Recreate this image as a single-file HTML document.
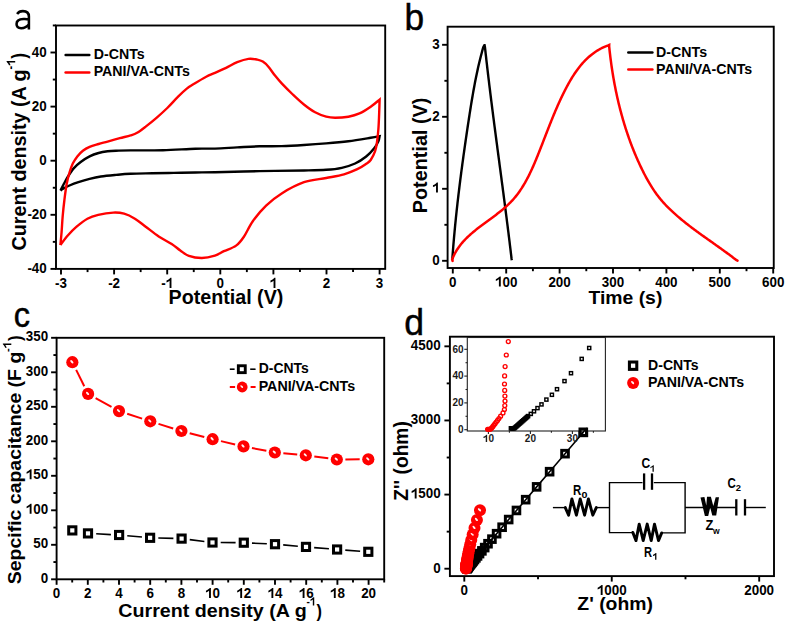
<!DOCTYPE html><html><head><meta charset="utf-8"><style>html,body{margin:0;padding:0;background:#fff;overflow:hidden}svg{display:block}text{font-family:"Liberation Sans",sans-serif}</style></head><body>
<svg width="787" height="624" viewBox="0 0 787 624">
<rect width="787" height="624" fill="#fff"/>
<path d="M60.5,190.6 C61.07,189.47 62.6,186.23 63.9,183.8 C65.2,181.37 66.63,178.62 68.3,176 C69.97,173.38 71.83,170.43 73.9,168.1 C75.97,165.77 78.08,163.95 80.7,162 C83.32,160.05 86.62,157.9 89.6,156.4 C92.58,154.9 95.6,153.85 98.6,153 C101.6,152.15 104.7,151.68 107.6,151.3 C110.5,150.92 112.17,150.85 116,150.7 C119.83,150.55 122.77,150.48 130.6,150.4 C138.43,150.32 152.2,150.48 163,150.2 C173.8,149.92 186.73,148.97 195.4,148.7 C204.07,148.43 208.03,148.82 215,148.6 C221.97,148.38 229.78,147.78 237.2,147.4 C244.62,147.02 252.08,146.52 259.5,146.3 C266.92,146.08 274.3,146.32 281.7,146.1 C289.1,145.88 296.48,145.45 303.9,145 C311.32,144.55 318.78,144.03 326.2,143.4 C333.62,142.77 340.98,142.13 348.4,141.2 C355.82,140.27 365.5,138.63 370.7,137.8 C375.9,136.97 378.12,136.47 379.6,136.2 L379.6,136.2 C379.4,137.03 379.33,139.15 378.4,141.2 C377.47,143.25 376.03,145.95 374,148.5 C371.97,151.05 369.35,154 366.2,156.5 C363.05,159 359.17,161.62 355.1,163.5 C351.03,165.38 346.62,166.75 341.8,167.8 C336.98,168.85 332.5,169.35 326.2,169.8 C319.9,170.25 315.12,170.28 304,170.5 C292.88,170.72 274.33,170.82 259.5,171.1 C244.67,171.38 225.68,171.97 215,172.2 C204.32,172.43 202.27,172.38 195.4,172.5 C188.53,172.62 181,172.77 173.8,172.9 C166.6,173.03 159.4,173.15 152.2,173.3 C145,173.45 136.63,173.53 130.6,173.8 C124.57,174.07 120.95,174.45 116,174.9 C111.05,175.35 105.3,175.85 100.9,176.5 C96.5,177.15 93.35,177.87 89.6,178.8 C85.85,179.73 81.75,180.98 78.4,182.1 C75.05,183.22 72.12,184.37 69.5,185.5 C66.88,186.63 64.2,188.05 62.7,188.9 C61.2,189.75 60.87,190.32 60.5,190.6" fill="none" stroke="#000" stroke-width="2.4" stroke-linejoin="miter"/>
<path d="M60.4,245 C60.6,242.83 61.22,236.83 61.6,232 C61.98,227.17 62.23,221.33 62.7,216 C63.17,210.67 63.73,205.37 64.4,200 C65.07,194.63 65.85,188.37 66.7,183.8 C67.55,179.23 68.48,175.97 69.5,172.6 C70.52,169.23 71.5,166.3 72.8,163.6 C74.1,160.9 75.62,158.55 77.3,156.4 C78.98,154.25 80.85,152.3 82.9,150.7 C84.95,149.1 86.98,147.92 89.6,146.8 C92.22,145.68 95.6,144.87 98.6,144 C101.6,143.13 104.07,142.57 107.6,141.6 C111.13,140.63 115.97,139.23 119.8,138.2 C123.63,137.17 127.72,136.3 130.6,135.4 C133.48,134.5 134.58,134.27 137.1,132.8 C139.62,131.33 142.47,129.1 145.7,126.6 C148.93,124.1 152.9,120.9 156.5,117.8 C160.1,114.7 163.7,111.53 167.3,108 C170.9,104.47 174.85,99.83 178.1,96.6 C181.35,93.37 184.27,90.65 186.8,88.6 C189.33,86.55 190.07,86.28 193.3,84.3 C196.53,82.32 202.58,78.62 206.2,76.7 C209.82,74.78 211.68,74.28 215,72.8 C218.32,71.32 222.4,69.57 226.1,67.8 C229.8,66.03 233.48,63.68 237.2,62.2 C240.92,60.72 245.05,59.33 248.4,58.9 C251.75,58.47 254.9,59.15 257.3,59.6 C259.7,60.05 260.95,60.42 262.8,61.6 C264.65,62.78 266.37,64.37 268.4,66.7 C270.43,69.03 272.78,72.82 275,75.6 C277.22,78.38 278.73,80.25 281.7,83.4 C284.67,86.55 289.1,90.98 292.8,94.5 C296.5,98.02 300.18,101.53 303.9,104.5 C307.62,107.47 311.38,110.27 315.1,112.3 C318.82,114.33 322.87,115.78 326.2,116.7 C329.53,117.62 331.4,117.8 335.1,117.8 C338.8,117.8 344.33,117.43 348.4,116.7 C352.47,115.97 355.78,115.07 359.5,113.4 C363.22,111.73 367.35,109 370.7,106.7 C374.05,104.4 378.12,100.78 379.6,99.6 L379.6,99.6 C379.52,102.17 379.3,110.1 379.1,115 C378.9,119.9 378.75,124.5 378.4,129 C378.05,133.5 377.55,138.3 377,142 C376.45,145.7 376.15,148.2 375.1,151.2 C374.05,154.2 372.18,157.9 370.7,160 C369.22,162.1 368.43,162.27 366.2,163.8 C363.97,165.33 361,167.45 357.3,169.2 C353.6,170.95 349.18,172.83 344,174.3 C338.82,175.77 332.87,176.68 326.2,178 C319.53,179.32 311.42,179.63 304,182.2 C296.58,184.77 288.02,189.5 281.7,193.4 C275.38,197.3 270.92,200.97 266.1,205.6 C261.28,210.23 256.5,216.02 252.8,221.2 C249.1,226.38 246.68,232.63 243.9,236.7 C241.12,240.77 239.43,243.18 236.1,245.6 C232.77,248.02 227.43,249.53 223.9,251.2 C220.37,252.87 218.57,254.47 214.9,255.6 C211.23,256.73 206.23,257.95 201.9,258 C197.57,258.05 192.5,257.15 188.9,255.9 C185.3,254.65 183.17,252.48 180.3,250.5 C177.43,248.52 175.3,246.35 171.7,244 C168.1,241.65 163.03,239.28 158.7,236.4 C154.37,233.52 149.67,229.65 145.7,226.7 C141.73,223.75 138.5,220.87 134.9,218.7 C131.3,216.53 127.7,214.72 124.1,213.7 C120.5,212.68 117.62,212.42 113.3,212.6 C108.98,212.78 102.52,213.78 98.2,214.8 C93.88,215.82 91,216.72 87.4,218.7 C83.8,220.68 79.83,223.93 76.6,226.7 C73.37,229.47 70.7,232.25 68,235.3 C65.3,238.35 61.67,243.38 60.4,245" fill="none" stroke="#ff0000" stroke-width="2.4" stroke-linejoin="miter"/>
<rect x="56" y="25.5" width="329.2" height="243.4" fill="none" stroke="#000" stroke-width="1.9"/>
<line x1="50.5" y1="268.9" x2="56" y2="268.9" stroke="#000" stroke-width="1.9"/>
<line x1="50.5" y1="214.8" x2="56" y2="214.8" stroke="#000" stroke-width="1.9"/>
<line x1="50.5" y1="160.7" x2="56" y2="160.7" stroke="#000" stroke-width="1.9"/>
<line x1="50.5" y1="106.6" x2="56" y2="106.6" stroke="#000" stroke-width="1.9"/>
<line x1="50.5" y1="52.5" x2="56" y2="52.5" stroke="#000" stroke-width="1.9"/>
<line x1="52.8" y1="241.85" x2="56" y2="241.85" stroke="#000" stroke-width="1.9"/>
<line x1="52.8" y1="187.75" x2="56" y2="187.75" stroke="#000" stroke-width="1.9"/>
<line x1="52.8" y1="133.65" x2="56" y2="133.65" stroke="#000" stroke-width="1.9"/>
<line x1="52.8" y1="79.55" x2="56" y2="79.55" stroke="#000" stroke-width="1.9"/>
<line x1="52.8" y1="25.45" x2="56" y2="25.45" stroke="#000" stroke-width="1.9"/>
<line x1="61" y1="268.9" x2="61" y2="274.4" stroke="#000" stroke-width="1.9"/>
<line x1="114.1" y1="268.9" x2="114.1" y2="274.4" stroke="#000" stroke-width="1.9"/>
<line x1="167.2" y1="268.9" x2="167.2" y2="274.4" stroke="#000" stroke-width="1.9"/>
<line x1="220.3" y1="268.9" x2="220.3" y2="274.4" stroke="#000" stroke-width="1.9"/>
<line x1="273.4" y1="268.9" x2="273.4" y2="274.4" stroke="#000" stroke-width="1.9"/>
<line x1="326.5" y1="268.9" x2="326.5" y2="274.4" stroke="#000" stroke-width="1.9"/>
<line x1="379.6" y1="268.9" x2="379.6" y2="274.4" stroke="#000" stroke-width="1.9"/>
<line x1="87.55" y1="268.9" x2="87.55" y2="272.1" stroke="#000" stroke-width="1.9"/>
<line x1="140.65" y1="268.9" x2="140.65" y2="272.1" stroke="#000" stroke-width="1.9"/>
<line x1="193.75" y1="268.9" x2="193.75" y2="272.1" stroke="#000" stroke-width="1.9"/>
<line x1="246.85" y1="268.9" x2="246.85" y2="272.1" stroke="#000" stroke-width="1.9"/>
<line x1="299.95" y1="268.9" x2="299.95" y2="272.1" stroke="#000" stroke-width="1.9"/>
<line x1="353.05" y1="268.9" x2="353.05" y2="272.1" stroke="#000" stroke-width="1.9"/>
<text transform="translate(27.38,273) scale(1,1.05)" font-size="13.4" style="font-weight:bold" fill="#000">-40</text>
<text transform="translate(27.38,218.9) scale(1,1.05)" font-size="13.4" style="font-weight:bold" fill="#000">-20</text>
<text transform="translate(39.3,164.8) scale(1,1.05)" font-size="13.4" style="font-weight:bold" fill="#000">0</text>
<text transform="translate(31.84,110.7) scale(1,1.05)" font-size="13.4" style="font-weight:bold" fill="#000">20</text>
<text transform="translate(31.84,56.6) scale(1,1.05)" font-size="13.4" style="font-weight:bold" fill="#000">40</text>
<text transform="translate(55.04,287.9) scale(1,1.05)" font-size="13.4" style="font-weight:bold" fill="#000">-3</text>
<text transform="translate(108.14,287.9) scale(1,1.05)" font-size="13.4" style="font-weight:bold" fill="#000">-2</text>
<g transform="translate(161.24,287.9) scale(1,1.05)"><text x="0" y="0" font-size="13.4" style="font-weight:bold" fill="#000">-</text><path d="M0.43,0 L0.29,0 L0.29,-0.512 C0.235,-0.462 0.15,-0.418 0.06,-0.39 L0.06,-0.52 C0.15,-0.55 0.225,-0.6 0.285,-0.655 C0.32,-0.69 0.345,-0.708 0.36,-0.716 L0.43,-0.716 Z" fill="#000" transform="translate(4.46,0) scale(13.4)"/></g>
<text transform="translate(216.57,287.9) scale(1,1.05)" font-size="13.4" style="font-weight:bold" fill="#000">0</text>
<g transform="translate(269.67,287.9) scale(1,1.05)"><path d="M0.43,0 L0.29,0 L0.29,-0.512 C0.235,-0.462 0.15,-0.418 0.06,-0.39 L0.06,-0.52 C0.15,-0.55 0.225,-0.6 0.285,-0.655 C0.32,-0.69 0.345,-0.708 0.36,-0.716 L0.43,-0.716 Z" fill="#000" transform="translate(0,0) scale(13.4)"/></g>
<text transform="translate(322.77,287.9) scale(1,1.05)" font-size="13.4" style="font-weight:bold" fill="#000">2</text>
<text transform="translate(375.87,287.9) scale(1,1.05)" font-size="13.4" style="font-weight:bold" fill="#000">3</text>
<line x1="65.6" y1="55.1" x2="89.3" y2="55.1" stroke="#000" stroke-width="2.5" stroke-linecap="round"/>
<line x1="65.6" y1="72.6" x2="89.3" y2="72.6" stroke="#ff0000" stroke-width="2.5" stroke-linecap="round"/>
<text x="93.68" y="59.1" font-size="14.2" style="font-weight:bold" fill="#000">D-CNTs</text>
<text x="93.68" y="76.3" font-size="14.2" style="font-weight:bold" fill="#000">PANI/VA-CNTs</text>
<text transform="translate(168.52,304) scale(1.02,1)" font-size="19.3" style="font-weight:bold" fill="#000">Potential (V)</text>
<text transform="translate(26,250.39) rotate(-90) scale(0.99,1)" font-size="19.9" style="font-weight:bold" fill="#000">Curent density (A g</text>
<g transform="translate(15.2,69.43) rotate(-90) scale(0.91,1)"><text x="0" y="0" font-size="12" style="font-weight:bold" fill="#000">-</text><path d="M0.43,0 L0.29,0 L0.29,-0.512 C0.235,-0.462 0.15,-0.418 0.06,-0.39 L0.06,-0.52 C0.15,-0.55 0.225,-0.6 0.285,-0.655 C0.32,-0.69 0.345,-0.708 0.36,-0.716 L0.43,-0.716 Z" fill="#000" transform="translate(4,0) scale(12)"/></g>
<text transform="translate(26,58.79) rotate(-90) scale(0.88,1)" font-size="19.9" style="font-weight:bold" fill="#000">)</text>
<path d="M452.7,259.5 L452.42,257.63 L452.55,255.81 L452.68,254 L452.82,252.18 L452.96,250.37 L453.1,248.56 L453.25,246.74 L453.4,244.93 L453.55,243.12 L453.7,241.3 L453.86,239.49 L454.02,237.68 L454.18,235.86 L454.34,234.05 L454.51,232.24 L454.68,230.42 L454.85,228.61 L455.02,226.8 L455.2,224.99 L455.38,223.17 L455.56,221.36 L455.74,219.55 L455.93,217.73 L456.12,215.92 L456.31,214.11 L456.5,212.3 L456.69,210.49 L456.89,208.67 L457.09,206.86 L457.29,205.05 L457.49,203.24 L457.7,201.43 L457.91,199.62 L458.12,197.81 L458.33,195.99 L458.54,194.18 L458.76,192.37 L458.98,190.56 L459.2,188.75 L459.42,186.94 L459.64,185.13 L459.86,183.32 L460.09,181.51 L460.32,179.7 L460.55,177.89 L460.78,176.08 L461.02,174.27 L461.25,172.46 L461.49,170.65 L461.73,168.85 L461.97,167.04 L462.21,165.23 L462.45,163.42 L462.7,161.61 L462.95,159.8 L463.19,158 L463.44,156.19 L463.69,154.38 L463.95,152.57 L464.2,150.77 L464.46,148.96 L464.71,147.15 L464.97,145.35 L465.23,143.54 L465.49,141.73 L465.75,139.93 L466.01,138.12 L466.28,136.32 L466.54,134.51 L466.81,132.71 L467.07,130.9 L467.34,129.1 L467.61,127.29 L467.88,125.49 L468.15,123.69 L468.43,121.88 L468.7,120.08 L468.97,118.28 L469.25,116.47 L469.53,114.67 L469.8,112.87 L470.09,111.07 L470.37,109.27 L470.65,107.47 L470.94,105.67 L471.23,103.87 L471.53,102.07 L471.82,100.27 L472.13,98.47 L472.43,96.68 L472.74,94.88 L473.05,93.09 L473.37,91.3 L473.69,89.5 L474.02,87.71 L474.35,85.92 L474.69,84.13 L475.03,82.35 L475.38,80.56 L475.73,78.77 L476.09,76.99 L476.46,75.21 L476.83,73.43 L477.21,71.65 L477.6,69.87 L477.99,68.09 L478.39,66.32 L478.8,64.55 L479.22,62.77 L479.65,61 L480.08,59.24 L480.52,57.47 L480.97,55.71 L481.43,53.95 L481.9,52.19 L482.38,50.43 L482.87,48.67 L483.37,46.92 L484.4,45.3 L484.6,45.3 L484.96,47.09 L485.15,48.9 L485.35,50.71 L485.55,52.52 L485.75,54.33 L485.96,56.14 L486.16,57.95 L486.36,59.76 L486.57,61.57 L486.78,63.38 L486.99,65.19 L487.19,67 L487.41,68.81 L487.62,70.62 L487.83,72.43 L488.04,74.24 L488.26,76.05 L488.47,77.85 L488.69,79.66 L488.91,81.47 L489.13,83.28 L489.34,85.09 L489.56,86.89 L489.79,88.7 L490.01,90.51 L490.23,92.32 L490.45,94.12 L490.68,95.93 L490.9,97.74 L491.13,99.54 L491.36,101.35 L491.58,103.16 L491.81,104.96 L492.04,106.77 L492.27,108.58 L492.5,110.38 L492.73,112.19 L492.96,114 L493.19,115.8 L493.42,117.61 L493.66,119.41 L493.89,121.22 L494.12,123.03 L494.36,124.83 L494.59,126.64 L494.83,128.44 L495.06,130.25 L495.3,132.05 L495.54,133.86 L495.77,135.66 L496.01,137.47 L496.25,139.28 L496.48,141.08 L496.72,142.89 L496.96,144.69 L497.2,146.5 L497.43,148.3 L497.67,150.11 L497.91,151.91 L498.15,153.72 L498.39,155.52 L498.63,157.33 L498.87,159.13 L499.11,160.94 L499.35,162.74 L499.58,164.55 L499.82,166.35 L500.06,168.16 L500.3,169.96 L500.54,171.77 L500.78,173.57 L501.02,175.38 L501.26,177.19 L501.5,178.99 L501.73,180.8 L501.97,182.6 L502.21,184.41 L502.45,186.21 L502.69,188.02 L502.92,189.82 L503.16,191.63 L503.4,193.43 L503.63,195.24 L503.87,197.05 L504.1,198.85 L504.34,200.66 L504.57,202.46 L504.81,204.27 L505.04,206.08 L505.28,207.88 L505.51,209.69 L505.74,211.49 L505.97,213.3 L506.2,215.11 L506.43,216.91 L506.66,218.72 L506.89,220.53 L507.12,222.33 L507.35,224.14 L507.58,225.95 L507.8,227.76 L508.03,229.56 L508.26,231.37 L508.48,233.18 L508.7,234.99 L508.93,236.79 L509.15,238.6 L509.37,240.41 L509.59,242.22 L509.81,244.03 L510.03,245.84 L510.25,247.64 L510.46,249.45 L510.68,251.26 L510.89,253.07 L511.11,254.88 L511.32,256.69 L511.53,258.5 L511.8,260.3" fill="none" stroke="#000" stroke-width="2.4" stroke-linejoin="miter"/>
<path d="M452.6,260.9 L452.18,259.47 L452.64,258.28 L453.13,257.11 L453.64,255.96 L454.17,254.83 L454.73,253.72 L455.31,252.63 L455.92,251.56 L456.55,250.5 L457.2,249.46 L457.88,248.44 L458.57,247.43 L459.29,246.44 L460.02,245.46 L460.77,244.5 L461.55,243.55 L462.33,242.61 L463.14,241.69 L463.96,240.78 L464.8,239.89 L465.66,239 L466.52,238.13 L467.41,237.26 L468.3,236.41 L469.21,235.56 L470.13,234.73 L471.06,233.9 L472.01,233.09 L472.96,232.28 L473.92,231.47 L474.89,230.68 L475.87,229.89 L476.86,229.1 L477.85,228.32 L478.85,227.55 L479.86,226.78 L480.87,226.01 L481.89,225.25 L482.91,224.49 L483.93,223.73 L484.96,222.97 L485.98,222.22 L487.01,221.46 L488.04,220.71 L489.07,219.96 L490.1,219.2 L491.13,218.45 L492.16,217.69 L493.18,216.93 L494.2,216.17 L495.22,215.41 L496.23,214.64 L497.24,213.86 L498.24,213.09 L499.24,212.31 L500.23,211.52 L501.21,210.72 L502.18,209.93 L503.15,209.12 L504.1,208.3 L505.05,207.48 L505.99,206.65 L506.91,205.81 L507.82,204.96 L508.72,204.1 L509.61,203.23 L510.48,202.35 L511.34,201.46 L512.18,200.56 L513.01,199.64 L513.83,198.72 L514.62,197.78 L515.41,196.83 L516.18,195.87 L516.94,194.9 L517.69,193.92 L518.42,192.93 L519.14,191.93 L519.84,190.92 L520.54,189.9 L521.22,188.87 L521.9,187.84 L522.56,186.79 L523.21,185.74 L523.85,184.68 L524.48,183.61 L525.1,182.54 L525.71,181.45 L526.31,180.37 L526.9,179.27 L527.48,178.17 L528.06,177.06 L528.63,175.95 L529.18,174.83 L529.74,173.7 L530.28,172.58 L530.82,171.44 L531.35,170.3 L531.87,169.16 L532.39,168.02 L532.91,166.87 L533.42,165.71 L533.92,164.56 L534.42,163.4 L534.91,162.24 L535.4,161.08 L535.89,159.91 L536.37,158.74 L536.85,157.58 L537.32,156.41 L537.8,155.24 L538.27,154.06 L538.74,152.89 L539.2,151.72 L539.67,150.55 L540.13,149.38 L540.59,148.2 L541.05,147.03 L541.51,145.86 L541.97,144.68 L542.43,143.51 L542.89,142.34 L543.34,141.16 L543.8,139.99 L544.25,138.82 L544.71,137.64 L545.16,136.47 L545.62,135.3 L546.07,134.13 L546.53,132.96 L546.98,131.79 L547.44,130.62 L547.9,129.45 L548.35,128.28 L548.81,127.11 L549.27,125.94 L549.73,124.77 L550.2,123.61 L550.66,122.44 L551.13,121.28 L551.6,120.11 L552.07,118.95 L552.54,117.79 L553.02,116.63 L553.49,115.47 L553.97,114.31 L554.46,113.15 L554.94,112 L555.43,110.84 L555.93,109.69 L556.42,108.54 L556.92,107.39 L557.42,106.24 L557.93,105.09 L558.44,103.95 L558.96,102.81 L559.48,101.67 L560,100.53 L560.53,99.39 L561.06,98.25 L561.6,97.12 L562.14,95.99 L562.69,94.86 L563.24,93.73 L563.8,92.6 L564.36,91.48 L564.93,90.36 L565.51,89.24 L566.09,88.13 L566.68,87.01 L567.27,85.9 L567.87,84.8 L568.48,83.69 L569.1,82.59 L569.72,81.5 L570.35,80.41 L570.99,79.33 L571.64,78.25 L572.3,77.19 L572.96,76.12 L573.64,75.07 L574.33,74.02 L575.02,72.98 L575.73,71.95 L576.45,70.93 L577.18,69.92 L577.92,68.92 L578.67,67.93 L579.43,66.96 L580.21,65.99 L581,65.03 L581.8,64.09 L582.61,63.16 L583.44,62.25 L584.28,61.34 L585.14,60.45 L586.01,59.58 L586.89,58.72 L587.8,57.88 L588.71,57.05 L589.64,56.24 L590.59,55.44 L591.55,54.67 L592.53,53.91 L593.53,53.16 L594.54,52.44 L595.58,51.74 L596.63,51.05 L597.69,50.39 L598.78,49.74 L599.88,49.12 L601.01,48.52 L602.15,47.94 L603.31,47.38 L604.49,46.84 L605.7,46.33 L606.92,45.84 L608.16,45.37 L609.2,44.9 L609.2,44.9 L609.17,46.46 L609.32,47.91 L609.47,49.36 L609.63,50.81 L609.79,52.26 L609.96,53.71 L610.13,55.16 L610.31,56.61 L610.49,58.06 L610.67,59.51 L610.86,60.96 L611.06,62.42 L611.26,63.87 L611.46,65.32 L611.67,66.77 L611.88,68.22 L612.1,69.68 L612.33,71.13 L612.56,72.58 L612.79,74.03 L613.03,75.48 L613.27,76.93 L613.52,78.38 L613.78,79.83 L614.04,81.28 L614.3,82.73 L614.57,84.18 L614.85,85.62 L615.13,87.07 L615.42,88.52 L615.71,89.96 L616,91.4 L616.31,92.85 L616.61,94.29 L616.93,95.73 L617.24,97.17 L617.57,98.61 L617.9,100.05 L618.23,101.49 L618.57,102.92 L618.92,104.36 L619.27,105.79 L619.63,107.22 L619.99,108.65 L620.36,110.08 L620.74,111.51 L621.12,112.94 L621.5,114.36 L621.9,115.78 L622.3,117.21 L622.7,118.63 L623.11,120.04 L623.53,121.46 L623.95,122.87 L624.38,124.29 L624.81,125.7 L625.25,127.1 L625.7,128.51 L626.15,129.91 L626.61,131.32 L627.07,132.71 L627.54,134.11 L628.02,135.51 L628.51,136.9 L628.99,138.29 L629.49,139.68 L629.99,141.06 L630.5,142.45 L631.02,143.83 L631.54,145.2 L632.07,146.58 L632.6,147.95 L633.15,149.32 L633.69,150.69 L634.25,152.05 L634.81,153.41 L635.38,154.77 L635.95,156.12 L636.53,157.47 L637.12,158.82 L637.72,160.17 L638.32,161.51 L638.93,162.85 L639.54,164.19 L640.16,165.52 L640.79,166.85 L641.43,168.17 L642.07,169.49 L642.72,170.81 L643.38,172.13 L644.04,173.44 L644.72,174.74 L645.4,176.04 L646.09,177.34 L646.79,178.63 L647.5,179.91 L648.22,181.19 L648.95,182.46 L649.69,183.72 L650.45,184.97 L651.21,186.22 L651.99,187.45 L652.78,188.68 L653.59,189.9 L654.41,191.11 L655.24,192.31 L656.09,193.5 L656.95,194.67 L657.83,195.84 L658.72,196.99 L659.63,198.13 L660.56,199.26 L661.5,200.38 L662.46,201.48 L663.43,202.58 L664.42,203.66 L665.42,204.73 L666.43,205.79 L667.46,206.84 L668.49,207.88 L669.54,208.92 L670.6,209.94 L671.67,210.95 L672.74,211.95 L673.83,212.95 L674.93,213.94 L676.03,214.91 L677.14,215.88 L678.26,216.85 L679.39,217.8 L680.52,218.75 L681.65,219.69 L682.79,220.63 L683.94,221.56 L685.09,222.48 L686.25,223.4 L687.41,224.31 L688.58,225.21 L689.75,226.12 L690.92,227.01 L692.1,227.9 L693.28,228.79 L694.47,229.67 L695.66,230.55 L696.85,231.43 L698.04,232.3 L699.23,233.17 L700.43,234.04 L701.63,234.9 L702.83,235.76 L704.03,236.62 L705.24,237.48 L706.44,238.33 L707.64,239.19 L708.85,240.04 L710.05,240.89 L711.26,241.74 L712.46,242.6 L713.67,243.45 L714.87,244.3 L716.07,245.15 L717.27,246 L718.47,246.86 L719.67,247.71 L720.86,248.57 L722.06,249.42 L723.25,250.28 L724.44,251.14 L725.62,252.01 L726.8,252.87 L727.98,253.74 L729.16,254.62 L730.33,255.49 L731.5,256.37 L732.66,257.25 L733.82,258.14 L734.97,259.03 L736.12,259.93 L737.5,260.6" fill="none" stroke="#ff0000" stroke-width="2.5" stroke-linejoin="miter" stroke-linecap="round"/>
<rect x="447.6" y="26.7" width="326.15" height="241.3" fill="none" stroke="#000" stroke-width="1.9"/>
<line x1="442.1" y1="260.8" x2="447.6" y2="260.8" stroke="#000" stroke-width="1.9"/>
<line x1="442.1" y1="188.8" x2="447.6" y2="188.8" stroke="#000" stroke-width="1.9"/>
<line x1="442.1" y1="116.8" x2="447.6" y2="116.8" stroke="#000" stroke-width="1.9"/>
<line x1="442.1" y1="44.8" x2="447.6" y2="44.8" stroke="#000" stroke-width="1.9"/>
<line x1="444.4" y1="224.8" x2="447.6" y2="224.8" stroke="#000" stroke-width="1.9"/>
<line x1="444.4" y1="152.8" x2="447.6" y2="152.8" stroke="#000" stroke-width="1.9"/>
<line x1="444.4" y1="80.8" x2="447.6" y2="80.8" stroke="#000" stroke-width="1.9"/>
<line x1="452.8" y1="268" x2="452.8" y2="273.5" stroke="#000" stroke-width="1.9"/>
<line x1="506.2" y1="268" x2="506.2" y2="273.5" stroke="#000" stroke-width="1.9"/>
<line x1="559.6" y1="268" x2="559.6" y2="273.5" stroke="#000" stroke-width="1.9"/>
<line x1="613" y1="268" x2="613" y2="273.5" stroke="#000" stroke-width="1.9"/>
<line x1="666.4" y1="268" x2="666.4" y2="273.5" stroke="#000" stroke-width="1.9"/>
<line x1="719.8" y1="268" x2="719.8" y2="273.5" stroke="#000" stroke-width="1.9"/>
<line x1="773.2" y1="268" x2="773.2" y2="273.5" stroke="#000" stroke-width="1.9"/>
<line x1="479.5" y1="268" x2="479.5" y2="271.2" stroke="#000" stroke-width="1.9"/>
<line x1="532.9" y1="268" x2="532.9" y2="271.2" stroke="#000" stroke-width="1.9"/>
<line x1="586.3" y1="268" x2="586.3" y2="271.2" stroke="#000" stroke-width="1.9"/>
<line x1="639.7" y1="268" x2="639.7" y2="271.2" stroke="#000" stroke-width="1.9"/>
<line x1="693.1" y1="268" x2="693.1" y2="271.2" stroke="#000" stroke-width="1.9"/>
<line x1="746.5" y1="268" x2="746.5" y2="271.2" stroke="#000" stroke-width="1.9"/>
<text transform="translate(432.15,264.6) scale(1,1.05)" font-size="13.4" style="font-weight:bold" fill="#000">0</text>
<g transform="translate(432.15,192.6) scale(1,1.05)"><path d="M0.43,0 L0.29,0 L0.29,-0.512 C0.235,-0.462 0.15,-0.418 0.06,-0.39 L0.06,-0.52 C0.15,-0.55 0.225,-0.6 0.285,-0.655 C0.32,-0.69 0.345,-0.708 0.36,-0.716 L0.43,-0.716 Z" fill="#000" transform="translate(0,0) scale(13.4)"/></g>
<text transform="translate(432.15,120.6) scale(1,1.05)" font-size="13.4" style="font-weight:bold" fill="#000">2</text>
<text transform="translate(432.15,48.6) scale(1,1.05)" font-size="13.4" style="font-weight:bold" fill="#000">3</text>
<text transform="translate(449.07,286.5) scale(1,1.05)" font-size="13.4" style="font-weight:bold" fill="#000">0</text>
<g transform="translate(495.02,286.5) scale(1,1.05)"><path d="M0.43,0 L0.29,0 L0.29,-0.512 C0.235,-0.462 0.15,-0.418 0.06,-0.39 L0.06,-0.52 C0.15,-0.55 0.225,-0.6 0.285,-0.655 C0.32,-0.69 0.345,-0.708 0.36,-0.716 L0.43,-0.716 Z" fill="#000" transform="translate(0,0) scale(13.4)"/><text x="7.45" y="0" font-size="13.4" style="font-weight:bold" fill="#000">00</text></g>
<text transform="translate(548.42,286.5) scale(1,1.05)" font-size="13.4" style="font-weight:bold" fill="#000">200</text>
<text transform="translate(601.82,286.5) scale(1,1.05)" font-size="13.4" style="font-weight:bold" fill="#000">300</text>
<text transform="translate(655.22,286.5) scale(1,1.05)" font-size="13.4" style="font-weight:bold" fill="#000">400</text>
<text transform="translate(708.62,286.5) scale(1,1.05)" font-size="13.4" style="font-weight:bold" fill="#000">500</text>
<text transform="translate(762.02,286.5) scale(1,1.05)" font-size="13.4" style="font-weight:bold" fill="#000">600</text>
<line x1="628.3" y1="52.4" x2="652.4" y2="52.4" stroke="#000" stroke-width="2.5" stroke-linecap="round"/>
<line x1="628.3" y1="69.6" x2="652.4" y2="69.6" stroke="#ff0000" stroke-width="2.5" stroke-linecap="round"/>
<text x="656.08" y="56.6" font-size="14.2" style="font-weight:bold" fill="#000">D-CNTs</text>
<text x="656.08" y="73.5" font-size="14.2" style="font-weight:bold" fill="#000">PANI/VA-CNTs</text>
<text transform="translate(588.41,303.7) scale(1.02,1)" font-size="19" style="font-weight:bold" fill="#000">Time (s)</text>
<text transform="translate(426.9,213.19) rotate(-90) scale(1,1)" font-size="19.8" style="font-weight:bold" fill="#000">Potential (V)</text>
<line x1="76.18" y1="369.9" x2="84.27" y2="386.2" stroke="#ff0000" stroke-width="2"/>
<line x1="95.61" y1="398.08" x2="111.49" y2="406.92" stroke="#ff0000" stroke-width="2"/>
<line x1="127.18" y1="413.76" x2="142.12" y2="418.64" stroke="#ff0000" stroke-width="2"/>
<line x1="158.51" y1="423.86" x2="173.19" y2="428.44" stroke="#ff0000" stroke-width="2"/>
<line x1="189.72" y1="433.19" x2="204.28" y2="437.01" stroke="#ff0000" stroke-width="2"/>
<line x1="220.98" y1="441.15" x2="235.12" y2="444.45" stroke="#ff0000" stroke-width="2"/>
<line x1="251.94" y1="448.05" x2="266.36" y2="450.85" stroke="#ff0000" stroke-width="2"/>
<line x1="283.37" y1="453.27" x2="297.23" y2="454.53" stroke="#ff0000" stroke-width="2"/>
<line x1="314.32" y1="456.45" x2="328.28" y2="458.35" stroke="#ff0000" stroke-width="2"/>
<line x1="345.4" y1="459.45" x2="359.7" y2="459.35" stroke="#ff0000" stroke-width="2"/>
<line x1="96.19" y1="533.82" x2="110.91" y2="534.58" stroke="#000" stroke-width="1.6"/>
<line x1="127.27" y1="535.74" x2="141.93" y2="537.06" stroke="#000" stroke-width="1.6"/>
<line x1="158.3" y1="538.01" x2="173.4" y2="538.39" stroke="#000" stroke-width="1.6"/>
<line x1="189.74" y1="539.63" x2="204.36" y2="541.47" stroke="#000" stroke-width="1.6"/>
<line x1="220.7" y1="542.55" x2="235.6" y2="542.65" stroke="#000" stroke-width="1.6"/>
<line x1="251.99" y1="543.09" x2="266.81" y2="543.81" stroke="#000" stroke-width="1.6"/>
<line x1="283.17" y1="544.91" x2="297.83" y2="546.19" stroke="#000" stroke-width="1.6"/>
<line x1="314.17" y1="547.58" x2="328.93" y2="548.82" stroke="#000" stroke-width="1.6"/>
<line x1="345.28" y1="550.1" x2="360.12" y2="551.2" stroke="#000" stroke-width="1.6"/>
<circle cx="72.35" cy="362.2" r="6.1" fill="#ff0000"/>
<ellipse cx="71.85" cy="361.75" rx="2" ry="1" fill="#fff" fill-opacity="0.95" transform="rotate(45 71.85 361.75)"/>
<circle cx="88.1" cy="393.9" r="6.1" fill="#ff0000"/>
<ellipse cx="87.6" cy="393.45" rx="2" ry="1" fill="#fff" fill-opacity="0.95" transform="rotate(45 87.6 393.45)"/>
<circle cx="119" cy="411.1" r="6.1" fill="#ff0000"/>
<ellipse cx="118.5" cy="410.65" rx="2" ry="1" fill="#fff" fill-opacity="0.95" transform="rotate(45 118.5 410.65)"/>
<circle cx="150.3" cy="421.3" r="6.1" fill="#ff0000"/>
<ellipse cx="149.8" cy="420.85" rx="2" ry="1" fill="#fff" fill-opacity="0.95" transform="rotate(45 149.8 420.85)"/>
<circle cx="181.4" cy="431" r="6.1" fill="#ff0000"/>
<ellipse cx="180.9" cy="430.55" rx="2" ry="1" fill="#fff" fill-opacity="0.95" transform="rotate(45 180.9 430.55)"/>
<circle cx="212.6" cy="439.2" r="6.1" fill="#ff0000"/>
<ellipse cx="212.1" cy="438.75" rx="2" ry="1" fill="#fff" fill-opacity="0.95" transform="rotate(45 212.1 438.75)"/>
<circle cx="243.5" cy="446.4" r="6.1" fill="#ff0000"/>
<ellipse cx="243" cy="445.95" rx="2" ry="1" fill="#fff" fill-opacity="0.95" transform="rotate(45 243 445.95)"/>
<circle cx="274.8" cy="452.5" r="6.1" fill="#ff0000"/>
<ellipse cx="274.3" cy="452.05" rx="2" ry="1" fill="#fff" fill-opacity="0.95" transform="rotate(45 274.3 452.05)"/>
<circle cx="305.8" cy="455.3" r="6.1" fill="#ff0000"/>
<ellipse cx="305.3" cy="454.85" rx="2" ry="1" fill="#fff" fill-opacity="0.95" transform="rotate(45 305.3 454.85)"/>
<circle cx="336.8" cy="459.5" r="6.1" fill="#ff0000"/>
<ellipse cx="336.3" cy="459.05" rx="2" ry="1" fill="#fff" fill-opacity="0.95" transform="rotate(45 336.3 459.05)"/>
<circle cx="368.3" cy="459.3" r="6.1" fill="#ff0000"/>
<ellipse cx="367.8" cy="458.85" rx="2" ry="1" fill="#fff" fill-opacity="0.95" transform="rotate(45 367.8 458.85)"/>
<rect x="68.7" y="526.8" width="7.2" height="7.2" fill="#fff" stroke="#000" stroke-width="3"/>
<rect x="84.4" y="529.8" width="7.2" height="7.2" fill="#fff" stroke="#000" stroke-width="3"/>
<rect x="115.5" y="531.4" width="7.2" height="7.2" fill="#fff" stroke="#000" stroke-width="3"/>
<rect x="146.5" y="534.2" width="7.2" height="7.2" fill="#fff" stroke="#000" stroke-width="3"/>
<rect x="178" y="535" width="7.2" height="7.2" fill="#fff" stroke="#000" stroke-width="3"/>
<rect x="208.9" y="538.9" width="7.2" height="7.2" fill="#fff" stroke="#000" stroke-width="3"/>
<rect x="240.2" y="539.1" width="7.2" height="7.2" fill="#fff" stroke="#000" stroke-width="3"/>
<rect x="271.4" y="540.6" width="7.2" height="7.2" fill="#fff" stroke="#000" stroke-width="3"/>
<rect x="302.4" y="543.3" width="7.2" height="7.2" fill="#fff" stroke="#000" stroke-width="3"/>
<rect x="333.5" y="545.9" width="7.2" height="7.2" fill="#fff" stroke="#000" stroke-width="3"/>
<rect x="364.7" y="548.2" width="7.2" height="7.2" fill="#fff" stroke="#000" stroke-width="3"/>
<rect x="56.6" y="337.8" width="327.6" height="241.5" fill="none" stroke="#000" stroke-width="1.9"/>
<line x1="51.1" y1="579.3" x2="56.6" y2="579.3" stroke="#000" stroke-width="1.9"/>
<line x1="51.1" y1="544.8" x2="56.6" y2="544.8" stroke="#000" stroke-width="1.9"/>
<line x1="51.1" y1="510.3" x2="56.6" y2="510.3" stroke="#000" stroke-width="1.9"/>
<line x1="51.1" y1="475.8" x2="56.6" y2="475.8" stroke="#000" stroke-width="1.9"/>
<line x1="51.1" y1="441.3" x2="56.6" y2="441.3" stroke="#000" stroke-width="1.9"/>
<line x1="51.1" y1="406.8" x2="56.6" y2="406.8" stroke="#000" stroke-width="1.9"/>
<line x1="51.1" y1="372.3" x2="56.6" y2="372.3" stroke="#000" stroke-width="1.9"/>
<line x1="51.1" y1="337.8" x2="56.6" y2="337.8" stroke="#000" stroke-width="1.9"/>
<line x1="53.4" y1="562.05" x2="56.6" y2="562.05" stroke="#000" stroke-width="1.9"/>
<line x1="53.4" y1="527.55" x2="56.6" y2="527.55" stroke="#000" stroke-width="1.9"/>
<line x1="53.4" y1="493.05" x2="56.6" y2="493.05" stroke="#000" stroke-width="1.9"/>
<line x1="53.4" y1="458.55" x2="56.6" y2="458.55" stroke="#000" stroke-width="1.9"/>
<line x1="53.4" y1="424.05" x2="56.6" y2="424.05" stroke="#000" stroke-width="1.9"/>
<line x1="53.4" y1="389.55" x2="56.6" y2="389.55" stroke="#000" stroke-width="1.9"/>
<line x1="53.4" y1="355.05" x2="56.6" y2="355.05" stroke="#000" stroke-width="1.9"/>
<line x1="56.6" y1="579.3" x2="56.6" y2="584.8" stroke="#000" stroke-width="1.9"/>
<line x1="87.8" y1="579.3" x2="87.8" y2="584.8" stroke="#000" stroke-width="1.9"/>
<line x1="119" y1="579.3" x2="119" y2="584.8" stroke="#000" stroke-width="1.9"/>
<line x1="150.2" y1="579.3" x2="150.2" y2="584.8" stroke="#000" stroke-width="1.9"/>
<line x1="181.4" y1="579.3" x2="181.4" y2="584.8" stroke="#000" stroke-width="1.9"/>
<line x1="212.6" y1="579.3" x2="212.6" y2="584.8" stroke="#000" stroke-width="1.9"/>
<line x1="243.8" y1="579.3" x2="243.8" y2="584.8" stroke="#000" stroke-width="1.9"/>
<line x1="275" y1="579.3" x2="275" y2="584.8" stroke="#000" stroke-width="1.9"/>
<line x1="306.2" y1="579.3" x2="306.2" y2="584.8" stroke="#000" stroke-width="1.9"/>
<line x1="337.4" y1="579.3" x2="337.4" y2="584.8" stroke="#000" stroke-width="1.9"/>
<line x1="368.6" y1="579.3" x2="368.6" y2="584.8" stroke="#000" stroke-width="1.9"/>
<line x1="72.2" y1="579.3" x2="72.2" y2="582.5" stroke="#000" stroke-width="1.9"/>
<line x1="103.4" y1="579.3" x2="103.4" y2="582.5" stroke="#000" stroke-width="1.9"/>
<line x1="134.6" y1="579.3" x2="134.6" y2="582.5" stroke="#000" stroke-width="1.9"/>
<line x1="165.8" y1="579.3" x2="165.8" y2="582.5" stroke="#000" stroke-width="1.9"/>
<line x1="197" y1="579.3" x2="197" y2="582.5" stroke="#000" stroke-width="1.9"/>
<line x1="228.2" y1="579.3" x2="228.2" y2="582.5" stroke="#000" stroke-width="1.9"/>
<line x1="259.4" y1="579.3" x2="259.4" y2="582.5" stroke="#000" stroke-width="1.9"/>
<line x1="290.6" y1="579.3" x2="290.6" y2="582.5" stroke="#000" stroke-width="1.9"/>
<line x1="321.8" y1="579.3" x2="321.8" y2="582.5" stroke="#000" stroke-width="1.9"/>
<line x1="353" y1="579.3" x2="353" y2="582.5" stroke="#000" stroke-width="1.9"/>
<line x1="384.2" y1="579.3" x2="384.2" y2="582.5" stroke="#000" stroke-width="1.9"/>
<text transform="translate(40.7,582.8) scale(1,1.05)" font-size="13.4" style="font-weight:bold" fill="#000">0</text>
<text transform="translate(33.24,548.3) scale(1,1.05)" font-size="13.4" style="font-weight:bold" fill="#000">50</text>
<g transform="translate(25.79,513.8) scale(1,1.05)"><path d="M0.43,0 L0.29,0 L0.29,-0.512 C0.235,-0.462 0.15,-0.418 0.06,-0.39 L0.06,-0.52 C0.15,-0.55 0.225,-0.6 0.285,-0.655 C0.32,-0.69 0.345,-0.708 0.36,-0.716 L0.43,-0.716 Z" fill="#000" transform="translate(0,0) scale(13.4)"/><text x="7.45" y="0" font-size="13.4" style="font-weight:bold" fill="#000">00</text></g>
<g transform="translate(25.79,479.3) scale(1,1.05)"><path d="M0.43,0 L0.29,0 L0.29,-0.512 C0.235,-0.462 0.15,-0.418 0.06,-0.39 L0.06,-0.52 C0.15,-0.55 0.225,-0.6 0.285,-0.655 C0.32,-0.69 0.345,-0.708 0.36,-0.716 L0.43,-0.716 Z" fill="#000" transform="translate(0,0) scale(13.4)"/><text x="7.45" y="0" font-size="13.4" style="font-weight:bold" fill="#000">50</text></g>
<text transform="translate(25.79,444.8) scale(1,1.05)" font-size="13.4" style="font-weight:bold" fill="#000">200</text>
<text transform="translate(25.79,410.3) scale(1,1.05)" font-size="13.4" style="font-weight:bold" fill="#000">250</text>
<text transform="translate(25.79,375.8) scale(1,1.05)" font-size="13.4" style="font-weight:bold" fill="#000">300</text>
<text transform="translate(25.79,341.3) scale(1,1.05)" font-size="13.4" style="font-weight:bold" fill="#000">350</text>
<text transform="translate(52.87,598) scale(1,1.05)" font-size="13.4" style="font-weight:bold" fill="#000">0</text>
<text transform="translate(84.07,598) scale(1,1.05)" font-size="13.4" style="font-weight:bold" fill="#000">2</text>
<text transform="translate(115.27,598) scale(1,1.05)" font-size="13.4" style="font-weight:bold" fill="#000">4</text>
<text transform="translate(146.47,598) scale(1,1.05)" font-size="13.4" style="font-weight:bold" fill="#000">6</text>
<text transform="translate(177.67,598) scale(1,1.05)" font-size="13.4" style="font-weight:bold" fill="#000">8</text>
<g transform="translate(205.15,598) scale(1,1.05)"><path d="M0.43,0 L0.29,0 L0.29,-0.512 C0.235,-0.462 0.15,-0.418 0.06,-0.39 L0.06,-0.52 C0.15,-0.55 0.225,-0.6 0.285,-0.655 C0.32,-0.69 0.345,-0.708 0.36,-0.716 L0.43,-0.716 Z" fill="#000" transform="translate(0,0) scale(13.4)"/><text x="7.45" y="0" font-size="13.4" style="font-weight:bold" fill="#000">0</text></g>
<g transform="translate(236.35,598) scale(1,1.05)"><path d="M0.43,0 L0.29,0 L0.29,-0.512 C0.235,-0.462 0.15,-0.418 0.06,-0.39 L0.06,-0.52 C0.15,-0.55 0.225,-0.6 0.285,-0.655 C0.32,-0.69 0.345,-0.708 0.36,-0.716 L0.43,-0.716 Z" fill="#000" transform="translate(0,0) scale(13.4)"/><text x="7.45" y="0" font-size="13.4" style="font-weight:bold" fill="#000">2</text></g>
<g transform="translate(267.55,598) scale(1,1.05)"><path d="M0.43,0 L0.29,0 L0.29,-0.512 C0.235,-0.462 0.15,-0.418 0.06,-0.39 L0.06,-0.52 C0.15,-0.55 0.225,-0.6 0.285,-0.655 C0.32,-0.69 0.345,-0.708 0.36,-0.716 L0.43,-0.716 Z" fill="#000" transform="translate(0,0) scale(13.4)"/><text x="7.45" y="0" font-size="13.4" style="font-weight:bold" fill="#000">4</text></g>
<g transform="translate(298.75,598) scale(1,1.05)"><path d="M0.43,0 L0.29,0 L0.29,-0.512 C0.235,-0.462 0.15,-0.418 0.06,-0.39 L0.06,-0.52 C0.15,-0.55 0.225,-0.6 0.285,-0.655 C0.32,-0.69 0.345,-0.708 0.36,-0.716 L0.43,-0.716 Z" fill="#000" transform="translate(0,0) scale(13.4)"/><text x="7.45" y="0" font-size="13.4" style="font-weight:bold" fill="#000">6</text></g>
<g transform="translate(329.95,598) scale(1,1.05)"><path d="M0.43,0 L0.29,0 L0.29,-0.512 C0.235,-0.462 0.15,-0.418 0.06,-0.39 L0.06,-0.52 C0.15,-0.55 0.225,-0.6 0.285,-0.655 C0.32,-0.69 0.345,-0.708 0.36,-0.716 L0.43,-0.716 Z" fill="#000" transform="translate(0,0) scale(13.4)"/><text x="7.45" y="0" font-size="13.4" style="font-weight:bold" fill="#000">8</text></g>
<text transform="translate(361.15,598) scale(1,1.05)" font-size="13.4" style="font-weight:bold" fill="#000">20</text>
<line x1="229.8" y1="369.2" x2="234.6" y2="369.2" stroke="#000" stroke-width="1.6"/>
<line x1="250.2" y1="369.2" x2="255.6" y2="369.2" stroke="#000" stroke-width="1.6"/>
<rect x="238.35" y="365.75" width="6.9" height="6.9" fill="#fff" stroke="#000" stroke-width="2.9"/>
<line x1="229.8" y1="387" x2="235.1" y2="387" stroke="#ff0000" stroke-width="2"/>
<line x1="250.6" y1="387" x2="255.6" y2="387" stroke="#ff0000" stroke-width="2"/>
<circle cx="242.2" cy="387" r="5.4" fill="#ff0000"/>
<ellipse cx="241.76" cy="386.6" rx="1.77" ry="0.89" fill="#fff" fill-opacity="0.95" transform="rotate(45 241.76 386.6)"/>
<text transform="translate(258.69,373.1) scale(0.99,1)" font-size="14.1" style="font-weight:bold" fill="#000">D-CNTs</text>
<text transform="translate(258.68,390.5) scale(1.01,1)" font-size="14.1" style="font-weight:bold" fill="#000">PANI/VA-CNTs</text>
<text transform="translate(118.31,616.6) scale(1.07,1)" font-size="18.4" style="font-weight:bold" fill="#000">Current density (A g</text>
<g transform="translate(306.51,605.4) scale(0.88,1)"><text x="0" y="0" font-size="11.5" style="font-weight:bold" fill="#000">-</text><path d="M0.43,0 L0.29,0 L0.29,-0.512 C0.235,-0.462 0.15,-0.418 0.06,-0.39 L0.06,-0.52 C0.15,-0.55 0.225,-0.6 0.285,-0.655 C0.32,-0.69 0.345,-0.708 0.36,-0.716 L0.43,-0.716 Z" fill="#000" transform="translate(3.83,0) scale(11.5)"/></g>
<text transform="translate(316.42,616.6) scale(0.89,1)" font-size="18.4" style="font-weight:bold" fill="#000">)</text>
<text transform="translate(20.7,584.18) rotate(-90) scale(1.07,1)" font-size="18.2" style="font-weight:bold" fill="#000">Sepcific capacitance (F g</text>
<g transform="translate(11.3,352.04) rotate(-90) scale(0.95,1)"><text x="0" y="0" font-size="11.8" style="font-weight:bold" fill="#000">-</text><path d="M0.43,0 L0.29,0 L0.29,-0.512 C0.235,-0.462 0.15,-0.418 0.06,-0.39 L0.06,-0.52 C0.15,-0.55 0.225,-0.6 0.285,-0.655 C0.32,-0.69 0.345,-0.708 0.36,-0.716 L0.43,-0.716 Z" fill="#000" transform="translate(3.93,0) scale(11.8)"/></g>
<text transform="translate(20.7,340.89) rotate(-90) scale(0.94,1)" font-size="18.2" style="font-weight:bold" fill="#000">)</text>
<path d="M466.9,568.4 L466.94,568.36 L466.95,568.35 L466.95,568.34 L466.96,568.33 L466.98,568.31 L466.99,568.3 L467.01,568.28 L467.03,568.25 L467.05,568.23 L467.08,568.19 L467.11,568.15 L467.15,568.11 L467.2,568.05 L467.25,567.99 L467.32,567.91 L467.39,567.82 L467.48,567.72 L467.59,567.59 L467.72,567.44 L467.88,567.26 L468.06,567.05 L468.27,566.8 L468.53,566.5 L468.83,566.14 L469.19,565.72 L469.62,565.22 L470.12,564.63 L470.72,563.93 L471.44,563.1 L472.28,562.11 L473.28,560.94 L474.47,559.55 L475.88,557.9 L477.55,555.94 L479.54,553.62 L481.89,550.87 L484.69,547.6 L488,543.73 L491.93,539.14 L496.59,533.69 L502.12,527.22 L508.68,519.55 L516.46,510.46 L525.68,499.67 L536.63,486.87 L549.62,471.68 L565.03,453.67 L583.3,432.3" fill="none" stroke="#000" stroke-width="1.6"/>
<path d="M465.9,568.6 L466.02,568.41 L466.06,568.06 L466.1,567.71 L466.14,567.36 L466.18,567.02 L466.23,566.67 L466.27,566.32 L466.31,565.97 L466.36,565.63 L466.4,565.28 L466.45,564.93 L466.49,564.59 L466.54,564.24 L466.59,563.89 L466.64,563.55 L466.69,563.2 L466.75,562.78 L466.82,562.26 L466.91,561.64 L467.03,560.87 L467.18,559.94 L467.36,558.81 L467.59,557.42 L467.89,555.74 L468.26,553.69 L468.75,551.19 L469.38,548.16 L470.2,544.46 L471.27,539.98 L472.67,534.53 L474.51,527.93 L476.92,519.92 L480,510.2" fill="none" stroke="#ff0000" stroke-width="1.6"/>
<rect x="463.6" y="565.1" width="6.6" height="6.6" fill="none" stroke="#000" stroke-width="3"/>
<rect x="463.64" y="565.06" width="6.6" height="6.6" fill="none" stroke="#000" stroke-width="3"/>
<rect x="463.65" y="565.05" width="6.6" height="6.6" fill="none" stroke="#000" stroke-width="3"/>
<rect x="463.65" y="565.04" width="6.6" height="6.6" fill="none" stroke="#000" stroke-width="3"/>
<rect x="463.66" y="565.03" width="6.6" height="6.6" fill="none" stroke="#000" stroke-width="3"/>
<rect x="463.68" y="565.01" width="6.6" height="6.6" fill="none" stroke="#000" stroke-width="3"/>
<rect x="463.69" y="565" width="6.6" height="6.6" fill="none" stroke="#000" stroke-width="3"/>
<rect x="463.71" y="564.98" width="6.6" height="6.6" fill="none" stroke="#000" stroke-width="3"/>
<rect x="463.73" y="564.95" width="6.6" height="6.6" fill="none" stroke="#000" stroke-width="3"/>
<rect x="463.75" y="564.93" width="6.6" height="6.6" fill="none" stroke="#000" stroke-width="3"/>
<rect x="463.78" y="564.89" width="6.6" height="6.6" fill="none" stroke="#000" stroke-width="3"/>
<rect x="463.81" y="564.85" width="6.6" height="6.6" fill="none" stroke="#000" stroke-width="3"/>
<rect x="463.85" y="564.81" width="6.6" height="6.6" fill="none" stroke="#000" stroke-width="3"/>
<rect x="463.9" y="564.75" width="6.6" height="6.6" fill="none" stroke="#000" stroke-width="3"/>
<rect x="463.95" y="564.69" width="6.6" height="6.6" fill="none" stroke="#000" stroke-width="3"/>
<rect x="464.02" y="564.61" width="6.6" height="6.6" fill="none" stroke="#000" stroke-width="3"/>
<rect x="464.09" y="564.52" width="6.6" height="6.6" fill="none" stroke="#000" stroke-width="3"/>
<rect x="464.18" y="564.42" width="6.6" height="6.6" fill="none" stroke="#000" stroke-width="3"/>
<rect x="464.29" y="564.29" width="6.6" height="6.6" fill="none" stroke="#000" stroke-width="3"/>
<rect x="464.42" y="564.14" width="6.6" height="6.6" fill="none" stroke="#000" stroke-width="3"/>
<rect x="464.58" y="563.96" width="6.6" height="6.6" fill="none" stroke="#000" stroke-width="3"/>
<rect x="464.76" y="563.75" width="6.6" height="6.6" fill="none" stroke="#000" stroke-width="3"/>
<rect x="464.97" y="563.5" width="6.6" height="6.6" fill="none" stroke="#000" stroke-width="3"/>
<rect x="465.23" y="563.2" width="6.6" height="6.6" fill="none" stroke="#000" stroke-width="3"/>
<rect x="465.53" y="562.84" width="6.6" height="6.6" fill="none" stroke="#000" stroke-width="3"/>
<rect x="465.89" y="562.42" width="6.6" height="6.6" fill="none" stroke="#000" stroke-width="3"/>
<rect x="466.32" y="561.92" width="6.6" height="6.6" fill="none" stroke="#000" stroke-width="3"/>
<rect x="466.82" y="561.33" width="6.6" height="6.6" fill="none" stroke="#000" stroke-width="3"/>
<rect x="467.42" y="560.63" width="6.6" height="6.6" fill="none" stroke="#000" stroke-width="3"/>
<rect x="468.14" y="559.8" width="6.6" height="6.6" fill="none" stroke="#000" stroke-width="3"/>
<rect x="468.98" y="558.81" width="6.6" height="6.6" fill="none" stroke="#000" stroke-width="3"/>
<rect x="469.98" y="557.64" width="6.6" height="6.6" fill="none" stroke="#000" stroke-width="3"/>
<rect x="471.17" y="556.25" width="6.6" height="6.6" fill="none" stroke="#000" stroke-width="3"/>
<rect x="472.58" y="554.6" width="6.6" height="6.6" fill="none" stroke="#000" stroke-width="3"/>
<rect x="474.25" y="552.64" width="6.6" height="6.6" fill="none" stroke="#000" stroke-width="3"/>
<rect x="476.24" y="550.32" width="6.6" height="6.6" fill="none" stroke="#000" stroke-width="3"/>
<rect x="478.59" y="547.57" width="6.6" height="6.6" fill="none" stroke="#000" stroke-width="3"/>
<rect x="481.39" y="544.3" width="6.6" height="6.6" fill="none" stroke="#000" stroke-width="3"/>
<rect x="484.7" y="540.43" width="6.6" height="6.6" fill="none" stroke="#000" stroke-width="3"/>
<rect x="488.63" y="535.84" width="6.6" height="6.6" fill="none" stroke="#000" stroke-width="3"/>
<rect x="493.29" y="530.39" width="6.6" height="6.6" fill="none" stroke="#000" stroke-width="3"/>
<rect x="498.82" y="523.92" width="6.6" height="6.6" fill="none" stroke="#000" stroke-width="3"/>
<rect x="505.38" y="516.25" width="6.6" height="6.6" fill="none" stroke="#000" stroke-width="3"/>
<rect x="513.16" y="507.16" width="6.6" height="6.6" fill="none" stroke="#000" stroke-width="3"/>
<rect x="522.38" y="496.37" width="6.6" height="6.6" fill="none" stroke="#000" stroke-width="3"/>
<rect x="533.33" y="483.57" width="6.6" height="6.6" fill="none" stroke="#000" stroke-width="3"/>
<rect x="546.32" y="468.38" width="6.6" height="6.6" fill="none" stroke="#000" stroke-width="3"/>
<rect x="561.73" y="450.37" width="6.6" height="6.6" fill="none" stroke="#000" stroke-width="3"/>
<rect x="580" y="429" width="6.6" height="6.6" fill="none" stroke="#000" stroke-width="3"/>
<circle cx="465.9" cy="568.6" r="6" fill="#ff0000"/>
<ellipse cx="465.41" cy="568.16" rx="1.97" ry="0.98" fill="#fff" fill-opacity="0.95" transform="rotate(45 465.41 568.16)"/>
<circle cx="466.02" cy="568.41" r="6" fill="#ff0000"/>
<ellipse cx="465.53" cy="567.96" rx="1.97" ry="0.98" fill="#fff" fill-opacity="0.95" transform="rotate(45 465.53 567.96)"/>
<circle cx="466.06" cy="568.06" r="6" fill="#ff0000"/>
<ellipse cx="465.57" cy="567.62" rx="1.97" ry="0.98" fill="#fff" fill-opacity="0.95" transform="rotate(45 465.57 567.62)"/>
<circle cx="466.1" cy="567.71" r="6" fill="#ff0000"/>
<ellipse cx="465.61" cy="567.27" rx="1.97" ry="0.98" fill="#fff" fill-opacity="0.95" transform="rotate(45 465.61 567.27)"/>
<circle cx="466.14" cy="567.36" r="6" fill="#ff0000"/>
<ellipse cx="465.65" cy="566.92" rx="1.97" ry="0.98" fill="#fff" fill-opacity="0.95" transform="rotate(45 465.65 566.92)"/>
<circle cx="466.18" cy="567.02" r="6" fill="#ff0000"/>
<ellipse cx="465.69" cy="566.57" rx="1.97" ry="0.98" fill="#fff" fill-opacity="0.95" transform="rotate(45 465.69 566.57)"/>
<circle cx="466.23" cy="566.67" r="6" fill="#ff0000"/>
<ellipse cx="465.73" cy="566.23" rx="1.97" ry="0.98" fill="#fff" fill-opacity="0.95" transform="rotate(45 465.73 566.23)"/>
<circle cx="466.27" cy="566.32" r="6" fill="#ff0000"/>
<ellipse cx="465.78" cy="565.88" rx="1.97" ry="0.98" fill="#fff" fill-opacity="0.95" transform="rotate(45 465.78 565.88)"/>
<circle cx="466.31" cy="565.97" r="6" fill="#ff0000"/>
<ellipse cx="465.82" cy="565.53" rx="1.97" ry="0.98" fill="#fff" fill-opacity="0.95" transform="rotate(45 465.82 565.53)"/>
<circle cx="466.36" cy="565.63" r="6" fill="#ff0000"/>
<ellipse cx="465.87" cy="565.18" rx="1.97" ry="0.98" fill="#fff" fill-opacity="0.95" transform="rotate(45 465.87 565.18)"/>
<circle cx="466.4" cy="565.28" r="6" fill="#ff0000"/>
<ellipse cx="465.91" cy="564.84" rx="1.97" ry="0.98" fill="#fff" fill-opacity="0.95" transform="rotate(45 465.91 564.84)"/>
<circle cx="466.45" cy="564.93" r="6" fill="#ff0000"/>
<ellipse cx="465.96" cy="564.49" rx="1.97" ry="0.98" fill="#fff" fill-opacity="0.95" transform="rotate(45 465.96 564.49)"/>
<circle cx="466.49" cy="564.59" r="6" fill="#ff0000"/>
<ellipse cx="466" cy="564.14" rx="1.97" ry="0.98" fill="#fff" fill-opacity="0.95" transform="rotate(45 466 564.14)"/>
<circle cx="466.54" cy="564.24" r="6" fill="#ff0000"/>
<ellipse cx="466.05" cy="563.8" rx="1.97" ry="0.98" fill="#fff" fill-opacity="0.95" transform="rotate(45 466.05 563.8)"/>
<circle cx="466.59" cy="563.89" r="6" fill="#ff0000"/>
<ellipse cx="466.1" cy="563.45" rx="1.97" ry="0.98" fill="#fff" fill-opacity="0.95" transform="rotate(45 466.1 563.45)"/>
<circle cx="466.64" cy="563.55" r="6" fill="#ff0000"/>
<ellipse cx="466.15" cy="563.1" rx="1.97" ry="0.98" fill="#fff" fill-opacity="0.95" transform="rotate(45 466.15 563.1)"/>
<circle cx="466.69" cy="563.2" r="6" fill="#ff0000"/>
<ellipse cx="466.19" cy="562.76" rx="1.97" ry="0.98" fill="#fff" fill-opacity="0.95" transform="rotate(45 466.19 562.76)"/>
<circle cx="466.75" cy="562.78" r="6" fill="#ff0000"/>
<ellipse cx="466.26" cy="562.34" rx="1.97" ry="0.98" fill="#fff" fill-opacity="0.95" transform="rotate(45 466.26 562.34)"/>
<circle cx="466.82" cy="562.26" r="6" fill="#ff0000"/>
<ellipse cx="466.33" cy="561.82" rx="1.97" ry="0.98" fill="#fff" fill-opacity="0.95" transform="rotate(45 466.33 561.82)"/>
<circle cx="466.91" cy="561.64" r="6" fill="#ff0000"/>
<ellipse cx="466.42" cy="561.19" rx="1.97" ry="0.98" fill="#fff" fill-opacity="0.95" transform="rotate(45 466.42 561.19)"/>
<circle cx="467.03" cy="560.87" r="6" fill="#ff0000"/>
<ellipse cx="466.54" cy="560.43" rx="1.97" ry="0.98" fill="#fff" fill-opacity="0.95" transform="rotate(45 466.54 560.43)"/>
<circle cx="467.18" cy="559.94" r="6" fill="#ff0000"/>
<ellipse cx="466.68" cy="559.5" rx="1.97" ry="0.98" fill="#fff" fill-opacity="0.95" transform="rotate(45 466.68 559.5)"/>
<circle cx="467.36" cy="558.81" r="6" fill="#ff0000"/>
<ellipse cx="466.87" cy="558.36" rx="1.97" ry="0.98" fill="#fff" fill-opacity="0.95" transform="rotate(45 466.87 558.36)"/>
<circle cx="467.59" cy="557.42" r="6" fill="#ff0000"/>
<ellipse cx="467.1" cy="556.98" rx="1.97" ry="0.98" fill="#fff" fill-opacity="0.95" transform="rotate(45 467.1 556.98)"/>
<circle cx="467.89" cy="555.74" r="6" fill="#ff0000"/>
<ellipse cx="467.39" cy="555.3" rx="1.97" ry="0.98" fill="#fff" fill-opacity="0.95" transform="rotate(45 467.39 555.3)"/>
<circle cx="468.26" cy="553.69" r="6" fill="#ff0000"/>
<ellipse cx="467.77" cy="553.25" rx="1.97" ry="0.98" fill="#fff" fill-opacity="0.95" transform="rotate(45 467.77 553.25)"/>
<circle cx="468.75" cy="551.19" r="6" fill="#ff0000"/>
<ellipse cx="468.26" cy="550.75" rx="1.97" ry="0.98" fill="#fff" fill-opacity="0.95" transform="rotate(45 468.26 550.75)"/>
<circle cx="469.38" cy="548.16" r="6" fill="#ff0000"/>
<ellipse cx="468.89" cy="547.71" rx="1.97" ry="0.98" fill="#fff" fill-opacity="0.95" transform="rotate(45 468.89 547.71)"/>
<circle cx="470.2" cy="544.46" r="6" fill="#ff0000"/>
<ellipse cx="469.71" cy="544.02" rx="1.97" ry="0.98" fill="#fff" fill-opacity="0.95" transform="rotate(45 469.71 544.02)"/>
<circle cx="471.27" cy="539.98" r="6" fill="#ff0000"/>
<ellipse cx="470.78" cy="539.54" rx="1.97" ry="0.98" fill="#fff" fill-opacity="0.95" transform="rotate(45 470.78 539.54)"/>
<circle cx="472.67" cy="534.53" r="6" fill="#ff0000"/>
<ellipse cx="472.18" cy="534.09" rx="1.97" ry="0.98" fill="#fff" fill-opacity="0.95" transform="rotate(45 472.18 534.09)"/>
<circle cx="474.51" cy="527.93" r="6" fill="#ff0000"/>
<ellipse cx="474.02" cy="527.48" rx="1.97" ry="0.98" fill="#fff" fill-opacity="0.95" transform="rotate(45 474.02 527.48)"/>
<circle cx="476.92" cy="519.92" r="6" fill="#ff0000"/>
<ellipse cx="476.43" cy="519.47" rx="1.97" ry="0.98" fill="#fff" fill-opacity="0.95" transform="rotate(45 476.43 519.47)"/>
<circle cx="480" cy="510.2" r="6" fill="#ff0000"/>
<ellipse cx="479.51" cy="509.76" rx="1.97" ry="0.98" fill="#fff" fill-opacity="0.95" transform="rotate(45 479.51 509.76)"/>
<rect x="449.9" y="336.7" width="324.1" height="239.4" fill="none" stroke="#000" stroke-width="1.9"/>
<line x1="444.4" y1="568.7" x2="449.9" y2="568.7" stroke="#000" stroke-width="1.9"/>
<line x1="444.4" y1="494.58" x2="449.9" y2="494.58" stroke="#000" stroke-width="1.9"/>
<line x1="444.4" y1="420.46" x2="449.9" y2="420.46" stroke="#000" stroke-width="1.9"/>
<line x1="444.4" y1="346.34" x2="449.9" y2="346.34" stroke="#000" stroke-width="1.9"/>
<line x1="446.7" y1="531.64" x2="449.9" y2="531.64" stroke="#000" stroke-width="1.9"/>
<line x1="446.7" y1="457.52" x2="449.9" y2="457.52" stroke="#000" stroke-width="1.9"/>
<line x1="446.7" y1="383.4" x2="449.9" y2="383.4" stroke="#000" stroke-width="1.9"/>
<line x1="464.3" y1="576.1" x2="464.3" y2="581.6" stroke="#000" stroke-width="1.9"/>
<line x1="611.75" y1="576.1" x2="611.75" y2="581.6" stroke="#000" stroke-width="1.9"/>
<line x1="759.2" y1="576.1" x2="759.2" y2="581.6" stroke="#000" stroke-width="1.9"/>
<line x1="538.02" y1="576.1" x2="538.02" y2="579.3" stroke="#000" stroke-width="1.9"/>
<line x1="685.48" y1="576.1" x2="685.48" y2="579.3" stroke="#000" stroke-width="1.9"/>
<text transform="translate(433.2,572.5) scale(1,1.05)" font-size="13.4" style="font-weight:bold" fill="#000">0</text>
<g transform="translate(410.84,498.38) scale(1,1.05)"><path d="M0.43,0 L0.29,0 L0.29,-0.512 C0.235,-0.462 0.15,-0.418 0.06,-0.39 L0.06,-0.52 C0.15,-0.55 0.225,-0.6 0.285,-0.655 C0.32,-0.69 0.345,-0.708 0.36,-0.716 L0.43,-0.716 Z" fill="#000" transform="translate(0,0) scale(13.4)"/><text x="7.45" y="0" font-size="13.4" style="font-weight:bold" fill="#000">500</text></g>
<text transform="translate(410.84,424.26) scale(1,1.05)" font-size="13.4" style="font-weight:bold" fill="#000">3000</text>
<text transform="translate(410.84,350.14) scale(1,1.05)" font-size="13.4" style="font-weight:bold" fill="#000">4500</text>
<text transform="translate(460.57,595) scale(1,1.05)" font-size="13.4" style="font-weight:bold" fill="#000">0</text>
<g transform="translate(596.84,595) scale(1,1.05)"><path d="M0.43,0 L0.29,0 L0.29,-0.512 C0.235,-0.462 0.15,-0.418 0.06,-0.39 L0.06,-0.52 C0.15,-0.55 0.225,-0.6 0.285,-0.655 C0.32,-0.69 0.345,-0.708 0.36,-0.716 L0.43,-0.716 Z" fill="#000" transform="translate(0,0) scale(13.4)"/><text x="7.45" y="0" font-size="13.4" style="font-weight:bold" fill="#000">000</text></g>
<text transform="translate(744.29,595) scale(1,1.05)" font-size="13.4" style="font-weight:bold" fill="#000">2000</text>
<rect x="629.43" y="362.02" width="7.35" height="7.35" fill="#fff" stroke="#000" stroke-width="3.05"/>
<circle cx="633.1" cy="383" r="6" fill="#ff0000"/>
<ellipse cx="632.61" cy="382.56" rx="1.97" ry="0.98" fill="#fff" fill-opacity="0.95" transform="rotate(45 632.61 382.56)"/>
<text transform="translate(648.09,369.8) scale(0.99,1)" font-size="14.2" style="font-weight:bold" fill="#000">D-CNTs</text>
<text x="648.08" y="386.9" font-size="14.2" style="font-weight:bold" fill="#000">PANI/VA-CNTs</text>
<text transform="translate(407.5,500.67) rotate(-90) scale(0.98,1)" font-size="19.6" style="font-weight:bold" fill="#000">Z'' (ohm)</text>
<text transform="translate(577.32,609.7) scale(1.01,1)" font-size="19.2" style="font-weight:bold" fill="#000">Z' (ohm)</text>
<rect x="467.3" y="337.5" width="138.1" height="93.5" fill="#fff" stroke="#222" stroke-width="1.1"/>
<line x1="464.3" y1="429.7" x2="467.3" y2="429.7" stroke="#222" stroke-width="1.1"/>
<line x1="464.3" y1="402.9" x2="467.3" y2="402.9" stroke="#222" stroke-width="1.1"/>
<line x1="464.3" y1="376.1" x2="467.3" y2="376.1" stroke="#222" stroke-width="1.1"/>
<line x1="464.3" y1="349.3" x2="467.3" y2="349.3" stroke="#222" stroke-width="1.1"/>
<line x1="465.5" y1="416.3" x2="467.3" y2="416.3" stroke="#222" stroke-width="1.1"/>
<line x1="465.5" y1="389.5" x2="467.3" y2="389.5" stroke="#222" stroke-width="1.1"/>
<line x1="465.5" y1="362.7" x2="467.3" y2="362.7" stroke="#222" stroke-width="1.1"/>
<line x1="488.4" y1="431" x2="488.4" y2="434" stroke="#222" stroke-width="1.1"/>
<line x1="530.4" y1="431" x2="530.4" y2="434" stroke="#222" stroke-width="1.1"/>
<line x1="572.4" y1="431" x2="572.4" y2="434" stroke="#222" stroke-width="1.1"/>
<line x1="509.4" y1="431" x2="509.4" y2="432.8" stroke="#222" stroke-width="1.1"/>
<line x1="551.4" y1="431" x2="551.4" y2="432.8" stroke="#222" stroke-width="1.1"/>
<line x1="593.4" y1="431" x2="593.4" y2="432.8" stroke="#222" stroke-width="1.1"/>
<text x="458.04" y="432.9" font-size="10" style="font-weight:bold" fill="#1a1a1a">0</text>
<text x="452.48" y="406.1" font-size="10" style="font-weight:bold" fill="#1a1a1a">20</text>
<text x="452.48" y="379.3" font-size="10" style="font-weight:bold" fill="#1a1a1a">40</text>
<text x="452.48" y="352.5" font-size="10" style="font-weight:bold" fill="#1a1a1a">60</text>
<g transform="translate(482.84,442) scale(1,1)"><path d="M0.43,0 L0.29,0 L0.29,-0.512 C0.235,-0.462 0.15,-0.418 0.06,-0.39 L0.06,-0.52 C0.15,-0.55 0.225,-0.6 0.285,-0.655 C0.32,-0.69 0.345,-0.708 0.36,-0.716 L0.43,-0.716 Z" fill="#1a1a1a" transform="translate(0,0) scale(10)"/><text x="5.56" y="0" font-size="10" style="font-weight:bold" fill="#1a1a1a">0</text></g>
<text x="524.84" y="442" font-size="10" style="font-weight:bold" fill="#1a1a1a">20</text>
<text x="566.84" y="442" font-size="10" style="font-weight:bold" fill="#1a1a1a">30</text>
<circle cx="508.3" cy="341.6" r="1.95" fill="none" stroke="#ff0000" stroke-width="1.35"/>
<circle cx="506.3" cy="355" r="1.95" fill="none" stroke="#ff0000" stroke-width="1.35"/>
<circle cx="505.1" cy="366.6" r="1.95" fill="none" stroke="#ff0000" stroke-width="1.35"/>
<circle cx="504.6" cy="375.9" r="1.95" fill="none" stroke="#ff0000" stroke-width="1.35"/>
<circle cx="504.5" cy="384" r="1.95" fill="none" stroke="#ff0000" stroke-width="1.35"/>
<circle cx="504.7" cy="390.4" r="1.95" fill="none" stroke="#ff0000" stroke-width="1.35"/>
<circle cx="504.9" cy="396.1" r="1.95" fill="none" stroke="#ff0000" stroke-width="1.35"/>
<circle cx="505" cy="401.1" r="1.95" fill="none" stroke="#ff0000" stroke-width="1.35"/>
<circle cx="504.8" cy="405.6" r="1.95" fill="none" stroke="#ff0000" stroke-width="1.35"/>
<circle cx="504.4" cy="409.5" r="1.95" fill="none" stroke="#ff0000" stroke-width="1.35"/>
<circle cx="503" cy="412.9" r="1.95" fill="none" stroke="#ff0000" stroke-width="1.35"/>
<circle cx="500.6" cy="416.2" r="1.95" fill="none" stroke="#ff0000" stroke-width="1.35"/>
<circle cx="498.9" cy="418.5" r="1.95" fill="none" stroke="#ff0000" stroke-width="1.35"/>
<circle cx="497.5" cy="420.4" r="1.95" fill="none" stroke="#ff0000" stroke-width="1.35"/>
<circle cx="496.2" cy="422.1" r="1.95" fill="none" stroke="#ff0000" stroke-width="1.35"/>
<circle cx="495" cy="423.7" r="1.95" fill="none" stroke="#ff0000" stroke-width="1.35"/>
<circle cx="493.9" cy="425.1" r="1.95" fill="none" stroke="#ff0000" stroke-width="1.35"/>
<circle cx="492.9" cy="426.4" r="1.95" fill="none" stroke="#ff0000" stroke-width="1.35"/>
<circle cx="492" cy="427.6" r="1.95" fill="none" stroke="#ff0000" stroke-width="1.35"/>
<circle cx="491.2" cy="428.6" r="1.95" fill="none" stroke="#ff0000" stroke-width="1.35"/>
<circle cx="490.4" cy="429.1" r="1.95" fill="none" stroke="#ff0000" stroke-width="1.35"/>
<circle cx="489.4" cy="429.3" r="1.95" fill="none" stroke="#ff0000" stroke-width="1.35"/>
<circle cx="488.5" cy="429.3" r="1.95" fill="none" stroke="#ff0000" stroke-width="1.35"/>
<circle cx="487.6" cy="429.3" r="1.95" fill="none" stroke="#ff0000" stroke-width="1.35"/>
<rect x="587.65" y="346.45" width="3.1" height="3.1" fill="none" stroke="#000" stroke-width="1.45"/>
<rect x="580.15" y="357.35" width="3.1" height="3.1" fill="none" stroke="#000" stroke-width="1.45"/>
<rect x="569.45" y="371.65" width="3.1" height="3.1" fill="none" stroke="#000" stroke-width="1.45"/>
<rect x="562.95" y="379.55" width="3.1" height="3.1" fill="none" stroke="#000" stroke-width="1.45"/>
<rect x="555.45" y="387.65" width="3.1" height="3.1" fill="none" stroke="#000" stroke-width="1.45"/>
<rect x="550.35" y="393.25" width="3.1" height="3.1" fill="none" stroke="#000" stroke-width="1.45"/>
<rect x="544.85" y="398.05" width="3.1" height="3.1" fill="none" stroke="#000" stroke-width="1.45"/>
<rect x="539.95" y="402.85" width="3.1" height="3.1" fill="none" stroke="#000" stroke-width="1.45"/>
<rect x="535.95" y="406.55" width="3.1" height="3.1" fill="none" stroke="#000" stroke-width="1.45"/>
<rect x="532.45" y="409.75" width="3.1" height="3.1" fill="none" stroke="#000" stroke-width="1.45"/>
<rect x="529.25" y="412.35" width="3.1" height="3.1" fill="none" stroke="#000" stroke-width="1.45"/>
<rect x="526.55" y="414.55" width="3.1" height="3.1" fill="none" stroke="#000" stroke-width="1.45"/>
<rect x="525.59" y="415.4" width="3.1" height="3.1" fill="none" stroke="#000" stroke-width="1.45"/>
<rect x="524.62" y="416.25" width="3.1" height="3.1" fill="none" stroke="#000" stroke-width="1.45"/>
<rect x="523.66" y="417.1" width="3.1" height="3.1" fill="none" stroke="#000" stroke-width="1.45"/>
<rect x="522.69" y="417.95" width="3.1" height="3.1" fill="none" stroke="#000" stroke-width="1.45"/>
<rect x="521.73" y="418.8" width="3.1" height="3.1" fill="none" stroke="#000" stroke-width="1.45"/>
<rect x="520.76" y="419.65" width="3.1" height="3.1" fill="none" stroke="#000" stroke-width="1.45"/>
<rect x="519.8" y="420.5" width="3.1" height="3.1" fill="none" stroke="#000" stroke-width="1.45"/>
<rect x="518.84" y="421.35" width="3.1" height="3.1" fill="none" stroke="#000" stroke-width="1.45"/>
<rect x="517.87" y="422.2" width="3.1" height="3.1" fill="none" stroke="#000" stroke-width="1.45"/>
<rect x="516.91" y="423.05" width="3.1" height="3.1" fill="none" stroke="#000" stroke-width="1.45"/>
<rect x="515.94" y="423.9" width="3.1" height="3.1" fill="none" stroke="#000" stroke-width="1.45"/>
<rect x="514.98" y="424.75" width="3.1" height="3.1" fill="none" stroke="#000" stroke-width="1.45"/>
<rect x="514.01" y="425.6" width="3.1" height="3.1" fill="none" stroke="#000" stroke-width="1.45"/>
<rect x="513.05" y="426.45" width="3.1" height="3.1" fill="none" stroke="#000" stroke-width="1.45"/>
<rect x="512.31" y="426.75" width="3.1" height="3.1" fill="none" stroke="#000" stroke-width="1.45"/>
<rect x="511.57" y="426.75" width="3.1" height="3.1" fill="none" stroke="#000" stroke-width="1.45"/>
<rect x="510.83" y="426.75" width="3.1" height="3.1" fill="none" stroke="#000" stroke-width="1.45"/>
<rect x="510.09" y="426.75" width="3.1" height="3.1" fill="none" stroke="#000" stroke-width="1.45"/>
<rect x="509.35" y="426.75" width="3.1" height="3.1" fill="none" stroke="#000" stroke-width="1.45"/>
<line x1="579.8" y1="435.9" x2="586.9" y2="428" stroke="#000" stroke-width="1.6"/>
<rect x="580" y="429" width="6.6" height="6.6" fill="none" stroke="#000" stroke-width="3"/>
<line x1="552.9" y1="507.6" x2="565.3" y2="507.6" stroke="#000" stroke-width="1.4"/>
<path d="M565.3,507.6 L568.6,515.2 L571.9,498.9 L576.4,515.2 L580.2,498.9 L584.6,515.2 L588.4,498.9 L592.8,515.2 L596.3,507.6" fill="none" stroke="#000" stroke-width="2.9" stroke-linejoin="round" stroke-linecap="round"/>
<line x1="596.3" y1="507.6" x2="609.5" y2="507.6" stroke="#000" stroke-width="1.4"/>
<path d="M642.5,482.6 H609.5 V532.6 H632.8 M653.8,482.6 H685.1 V532.9 H661.7" fill="none" stroke="#000" stroke-width="1.4"/>
<line x1="644.1" y1="473.4" x2="644.1" y2="489.8" stroke="#000" stroke-width="2.3"/>
<line x1="652" y1="473.4" x2="652" y2="489.8" stroke="#000" stroke-width="2.3"/>
<path d="M632.8,532.4 L636,540.6 L639.2,524.1 L643.2,540.6 L647.2,524.1 L651.2,540.6 L654.5,524.1 L658.5,540.6 L661.7,532.9" fill="none" stroke="#000" stroke-width="2.9" stroke-linejoin="round" stroke-linecap="round"/>
<line x1="685.1" y1="507.5" x2="736.3" y2="507.5" stroke="#000" stroke-width="1.4"/>
<path d="M700.5,497.5 L704.4,497.0 L706.3,505.5 L707.0,496.7 L710.9,496.7 L713.3,506 L715.7,497.2 L719.0,497.2 L716.2,515.6 L712.3,515.6 L710.2,507.5 L708.2,515.9 L704.9,516.1 Z" fill="#000"/>
<line x1="736.3" y1="499.2" x2="736.3" y2="515.5" stroke="#000" stroke-width="2.3"/>
<line x1="745" y1="499.2" x2="745" y2="515.5" stroke="#000" stroke-width="2.3"/>
<line x1="745" y1="507.5" x2="765.8" y2="507.5" stroke="#000" stroke-width="1.4"/>
<text transform="translate(573.05,494.9) scale(0.78,1)" font-size="14.7" style="font-weight:bold" fill="#000">R</text>
<text transform="translate(581.47,497.8) scale(1.13,1)" font-size="9.5" style="font-weight:bold" fill="#000">0</text>
<text transform="translate(641.52,468.3) scale(0.83,1)" font-size="14.5" style="font-weight:bold" fill="#000">C</text>
<g transform="translate(649.91,471.7) scale(1,1)"><path d="M0.43,0 L0.29,0 L0.29,-0.512 C0.235,-0.462 0.15,-0.418 0.06,-0.39 L0.06,-0.52 C0.15,-0.55 0.225,-0.6 0.285,-0.655 C0.32,-0.69 0.345,-0.708 0.36,-0.716 L0.43,-0.716 Z" fill="#000" transform="translate(0,0) scale(9)"/></g>
<text transform="translate(644.07,556.5) scale(0.77,1)" font-size="14.5" style="font-weight:bold" fill="#000">R</text>
<g transform="translate(652.51,559.7) scale(0.97,1)"><path d="M0.43,0 L0.29,0 L0.29,-0.512 C0.235,-0.462 0.15,-0.418 0.06,-0.39 L0.06,-0.52 C0.15,-0.55 0.225,-0.6 0.285,-0.655 C0.32,-0.69 0.345,-0.708 0.36,-0.716 L0.43,-0.716 Z" fill="#000" transform="translate(0,0) scale(9.3)"/></g>
<text transform="translate(727.54,487.6) scale(0.79,1)" font-size="14.5" style="font-weight:bold" fill="#000">C</text>
<text transform="translate(735.67,490.8) scale(1.01,1)" font-size="9.3" style="font-weight:bold" fill="#000">2</text>
<text transform="translate(705.61,530.4) scale(0.92,1)" font-size="14" style="font-weight:bold" fill="#000">Z</text>
<text transform="translate(713.1,533.8) scale(0.94,1)" font-size="9.1" style="font-weight:bold" fill="#000">w</text>
<path d="M17.1,13.9 C18.5,11.9 20.4,11.1 22.9,11.1 C26.9,11.1 28.9,13.0 28.9,16.6 L28.9,29.4 M28.9,19.5 C27.4,19.1 25.5,19.0 23.4,19.1 C18.9,19.3 16.55,21.0 16.55,24.0 C16.55,26.7 18.5,28.15 21.2,28.15 C24.5,28.15 27.3,26.4 28.9,24.2" fill="none" stroke="#000" stroke-width="2.55"/>
<text transform="translate(404.42,29.91) scale(0.96,1)" font-size="36.73" style="font-weight:normal" fill="#000" stroke="#000" stroke-width="0.47">b</text>
<text transform="translate(13.85,326.93) scale(0.95,1)" font-size="34.27" style="font-weight:normal" fill="#000" stroke="#000" stroke-width="0.47">c</text>
<text transform="translate(404.21,334.9) scale(0.96,1)" font-size="37.07" style="font-weight:normal" fill="#000" stroke="#000" stroke-width="0.47">d</text>
</svg></body></html>
